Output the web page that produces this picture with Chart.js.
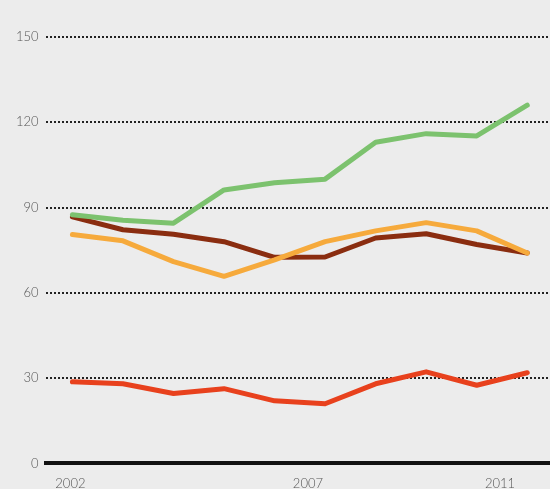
<!DOCTYPE html>
<html>
<head>
<meta charset="utf-8">
<script src="https://cdn.jsdelivr.net/npm/chart.js@4/dist/chart.umd.min.js"></script>
<style>
  html, body { margin: 0; padding: 0; background: #ececec; }
  #wrap { width: 550px; height: 489px; position: relative; }
</style>
</head>
<body>
<div id="wrap"><canvas id="chart_area"></canvas></div>
<script>
// years on the x axis
const years = [2002, 2003, 2004, 2005, 2006, 2007, 2008, 2009, 2010, 2011];

// series
const greenValues  = [87.5, 85.5, 84.5, 96.2, 98.7, 100, 113, 116, 115.2, 126];
const orangeValues = [80.5, 78.3, 71, 65.8, 71.6, 78, 81.8, 84.7, 81.8, 74];
const brownValues  = [86.7, 82.2, 80.6, 78, 72.5, 72.6, 79.3, 80.8, 77, 74];
const redValues    = [28.7, 28, 24.6, 26.3, 22, 21, 28, 32.2, 27.5, 31.9];

// axis labels
const yTicks = [0, 30, 60, 90, 120, 150];
const xTickLabels = ['2002', '2007', '2011'];
const xTickPlaces = [2001.96, 2006.66, 2010.46];

function toPoints(values) {
  return values.map((v, i) => ({ x: years[i], y: v }));
}

const ctx = document.getElementById('chart_area').getContext('2d');
const myChart = new Chart(ctx, {
  type: 'line',
  data: {
    datasets: [
      { data: toPoints(greenValues),  borderColor: '#7cc26e' },
      { data: toPoints(orangeValues), borderColor: '#f6aa3c' },
      { data: toPoints(brownValues),  borderColor: '#8a2d10' },
      { data: toPoints(redValues),    borderColor: '#e8411d' }
    ]
  },
  options: {
    responsive: true,
    maintainAspectRatio: false,
    animation: false,
    layout: { padding: { top: 37, left: 9, right: 0, bottom: -16 } },
    elements: {
      line: { borderWidth: 5, tension: 0, borderCapStyle: 'round', borderJoinStyle: 'round' },
      point: { radius: 0 }
    },
    plugins: {
      legend: { display: false },
      tooltip: { enabled: false }
    },
    scales: {
      x: {
        type: 'linear',
        min: 2001.47,
        max: 2011.45,
        afterBuildTicks: axis => {
          axis.ticks = xTickPlaces.map(v => ({ value: v }));
        },
        ticks: {
          autoSkip: false,
          maxRotation: 0,
          padding: 13,
          color: '#555',
          font: { family: 'Lato', size: 13, weight: 300 },
          callback: (value, index) => xTickLabels[index]
        },
        grid: { display: false, drawTicks: false },
        border: { display: true, color: '#111', width: 4, dash: [] }
      },
      y: {
        min: 0,
        max: 150,
        afterBuildTicks: axis => {
          axis.ticks = yTicks.map(v => ({ value: v }));
        },
        ticks: {
          padding: 7,
          color: '#555',
          font: { family: 'Lato', size: 13, weight: 300 }
        },
        grid: {
          drawTicks: false,
          lineWidth: 2,
          color: c => (c.tick && c.tick.value === 0) ? 'rgba(0,0,0,0)' : '#222'
        },
        border: { display: false, dash: [2, 2] }
      }
    }
  }
});
</script>
</body>
</html>
